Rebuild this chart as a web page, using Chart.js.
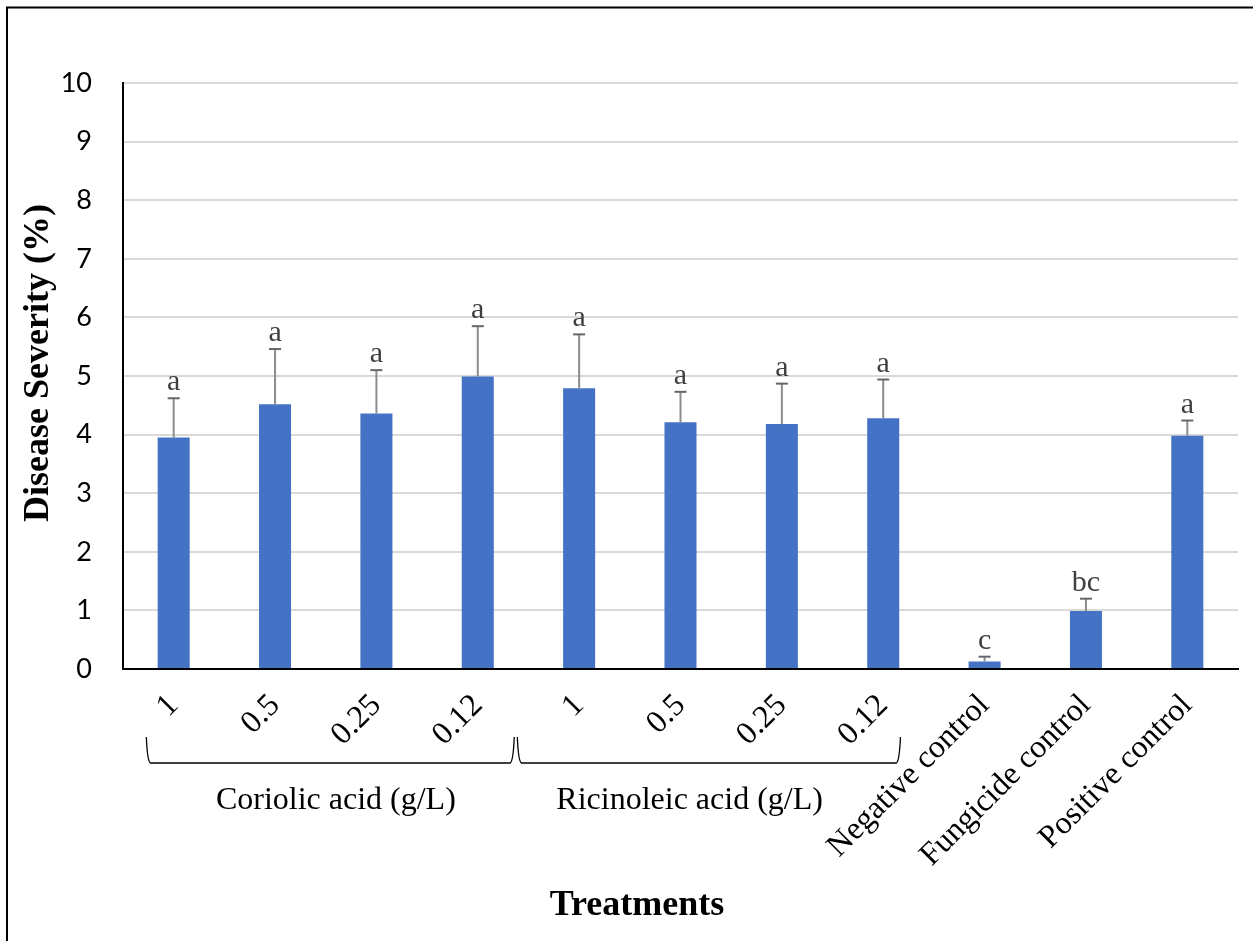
<!DOCTYPE html>
<html>
<head>
<meta charset="utf-8">
<script src="https://cdn.jsdelivr.net/npm/chart.js@4/dist/chart.umd.min.js"></script>
<style>
	html, body { margin: 0; padding: 0; background: #fff; }
	canvas { display: block; }
</style>
</head>
<body>
<canvas id="myChart" width="1253" height="941"></canvas>
<script>
const treatments = ["1", "0.5", "0.25", "0.12", "1", "0.5", "0.25", "0.12", "Negative control", "Fungicide control", "Positive control"];
const severity = [3.95, 4.52, 4.36, 4.99, 4.79, 4.21, 4.18, 4.28, 0.13, 0.99, 3.98];
const errorUp = [0.67, 0.94, 0.74, 0.86, 0.92, 0.52, 0.69, 0.66, 0.08, 0.21, 0.26];
const letters = ["a", "a", "a", "a", "a", "a", "a", "a", "c", "bc", "a"];
const groupNames = ["Coriolic acid (g/L)", "Ricinoleic acid (g/L)"];
const groupFrom = [0, 4];
const groupTo = [3, 7];
const yMin = 0;
const yMax = 10;
const yStep = 1;

const serif = "'Liberation Serif', 'Times New Roman', serif";

// bracket ends and label nudges, in category widths
const bracketLeft = [-0.26, -0.6];
const bracketRight = [0.35, 0.16];
const groupLabelShift = [0.1, -0.41];

const extras = {
	id: "extras",
	afterDatasetsDraw: function (chart) {
		const ctx = chart.ctx;
		const x = chart.scales.x;
		const y = chart.scales.y;
		const meta = chart.getDatasetMeta(0);
		const cw = x.getPixelForValue(1) - x.getPixelForValue(0);

		// error bars + letters
		meta.data.forEach(function (bar, i) {
			const top = y.getPixelForValue(severity[i] + errorUp[i]);
			const base = y.getPixelForValue(severity[i]);
			ctx.save();
			ctx.strokeStyle = "#8c8c8c";
			ctx.lineWidth = 2;
			ctx.beginPath();
			ctx.moveTo(bar.x, base);
			ctx.lineTo(bar.x, top);
			ctx.stroke();
			ctx.strokeStyle = "#666666";
			ctx.beginPath();
			ctx.moveTo(bar.x - 6, top);
			ctx.lineTo(bar.x + 6, top);
			ctx.stroke();
			ctx.fillStyle = "#404040";
			ctx.font = "30px " + serif;
			ctx.textAlign = "center";
			ctx.textBaseline = "alphabetic";
			ctx.fillText(letters[i], bar.x, top - 8);
			ctx.restore();
		});

		// group brackets and names
		ctx.save();
		ctx.strokeStyle = "#000";
		ctx.lineWidth = 1.3;
		const yTop = 737;
		const yBot = 763;
		groupNames.forEach(function (name, g) {
			const l = x.getPixelForValue(groupFrom[g]) + bracketLeft[g] * cw;
			const r = x.getPixelForValue(groupTo[g]) + bracketRight[g] * cw;
			ctx.beginPath();
			ctx.moveTo(l - 1, yTop);
			ctx.quadraticCurveTo(l, yBot - 2, l + 3, yBot);
			ctx.lineTo(r - 3, yBot);
			ctx.quadraticCurveTo(r, yBot - 2, r + 1, yTop);
			ctx.stroke();
			const mid = x.getPixelForValue((groupFrom[g] + groupTo[g]) / 2) + groupLabelShift[g] * cw;
			ctx.fillStyle = "#000";
			ctx.font = "32px " + serif;
			ctx.textAlign = "center";
			ctx.textBaseline = "middle";
			ctx.fillText(name, mid, 801);
		});
		ctx.restore();

		// axis titles
		ctx.save();
		ctx.fillStyle = "#000";
		ctx.font = "bold 36px " + serif;
		ctx.textAlign = "center";
		ctx.textBaseline = "alphabetic";
		ctx.fillText("Treatments", 637, 915);
		ctx.translate(48, 363);
		ctx.rotate(-Math.PI / 2);
		ctx.fillText("Disease Severity (%)", 0, 0);
		ctx.restore();

		// outer frame
		ctx.save();
		ctx.strokeStyle = "#000";
		ctx.lineWidth = 2;
		ctx.beginPath();
		ctx.moveTo(7, 941);
		ctx.lineTo(7, 7.5);
		ctx.lineTo(1253, 7.5);
		ctx.stroke();
		ctx.restore();
	},
};

const ctx = document.getElementById("myChart").getContext("2d");
const myChart = new Chart(ctx, {
	type: "bar",
	data: {
		labels: treatments,
		datasets: [
			{
				label: "Disease Severity (%)",
				data: severity,
				backgroundColor: "#4472c4",
				borderWidth: 0,
				categoryPercentage: 1,
				barPercentage: 0.316,
			},
		],
	},
	options: {
		responsive: false,
		animation: false,
		events: [],
		layout: { padding: { left: 0, top: 83, right: 15, bottom: 0 } },
		plugins: {
			legend: { display: false },
			tooltip: { enabled: false },
		},
		scales: {
			x: {
				grid: { display: false, drawTicks: false },
				border: { color: "#000", width: 2 },
				ticks: {
					color: "#000",
					font: { family: serif, size: 32 },
					minRotation: 45,
					maxRotation: 45,
					autoSkip: false,
					padding: 18,
				},
				afterFit: function (scale) {
					scale.height = 272;
				},
			},
			y: {
				min: yMin,
				max: yMax,
				grid: { color: "#d9d9d9", lineWidth: 2, drawTicks: false },
				border: { color: "#000", width: 2 },
				ticks: {
					stepSize: yStep,
					color: "#000",
					font: { family: "Lato", size: 27 },
					padding: 31,
				},
				afterFit: function (scale) {
					scale.width = 123;
				},
			},
		},
	},
	plugins: [extras],
});
</script>
</body>
</html>
